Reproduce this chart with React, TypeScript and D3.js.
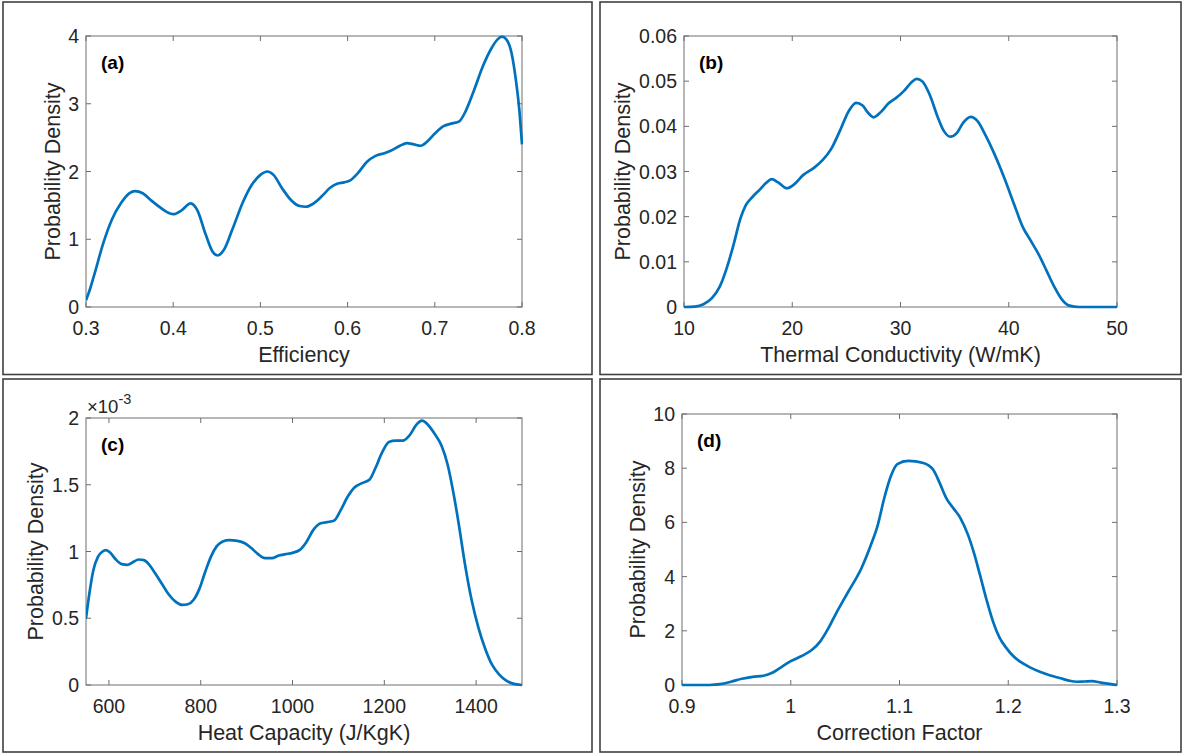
import React from "react";
import * as d3 from "d3";

// ---------- Data ----------
// (a) Efficiency
const effX = [0.300,0.305,0.310,0.320,0.330,0.340,0.350,0.356,0.365,0.375,0.385,0.393,0.400,0.410,0.420,0.428,0.437,0.445,0.451,0.458,0.468,0.480,0.490,0.500,0.508,0.515,0.525,0.535,0.545,0.552,0.560,0.570,0.580,0.588,0.596,0.603,0.612,0.622,0.632,0.642,0.650,0.660,0.668,0.676,0.684,0.692,0.700,0.710,0.720,0.728,0.735,0.745,0.755,0.765,0.772,0.777,0.782,0.788,0.793,0.797,0.800];
const effY = [0.10,0.28,0.50,0.95,1.30,1.53,1.68,1.71,1.68,1.57,1.47,1.40,1.37,1.43,1.53,1.42,1.08,0.82,0.76,0.84,1.15,1.55,1.80,1.95,2.00,1.95,1.75,1.58,1.49,1.48,1.52,1.63,1.76,1.82,1.84,1.87,1.98,2.14,2.23,2.27,2.31,2.38,2.42,2.40,2.38,2.45,2.56,2.67,2.71,2.74,2.88,3.20,3.55,3.82,3.95,3.99,3.95,3.75,3.35,2.90,2.40];
const effXTicks = [0.3,0.4,0.5,0.6,0.7,0.8];
const effXTickLabels = ["0.3","0.4","0.5","0.6","0.7","0.8"];
const effYTicks = [0,1,2,3,4];
const effYTickLabels = ["0","1","2","3","4"];

// (b) Thermal conductivity
const tcX = [10,11,11.8,12.6,13.3,14.0,14.6,15.2,15.7,16.3,17.0,17.6,18.1,18.7,19.5,20.2,21.0,22.0,22.8,23.6,24.4,25.2,25.9,26.5,27.0,27.5,28.2,28.9,29.6,30.3,31.0,31.5,32.0,32.7,33.4,34.0,34.6,35.2,35.8,36.5,37.1,37.8,38.6,39.6,40.5,41.3,42.0,42.8,43.5,44.2,44.9,45.6,46.5,50];
const tcY = [0,0.0001,0.0006,0.0020,0.0045,0.0090,0.0140,0.0195,0.0225,0.0243,0.0260,0.0275,0.0283,0.0276,0.0263,0.0272,0.0292,0.0308,0.0325,0.0350,0.0390,0.0433,0.0452,0.0446,0.0430,0.0420,0.0432,0.0451,0.0463,0.0478,0.0497,0.0505,0.0500,0.0470,0.0423,0.0390,0.0377,0.0385,0.0408,0.0421,0.0412,0.0383,0.0343,0.0285,0.0227,0.0177,0.0148,0.0115,0.0080,0.0045,0.0017,0.0003,0,0];
const tcXTicks = [10,20,30,40,50];
const tcXTickLabels = ["10","20","30","40","50"];
const tcYTicks = [0,0.01,0.02,0.03,0.04,0.05,0.06];
const tcYTickLabels = ["0","0.01","0.02","0.03","0.04","0.05","0.06"];

// (c) Heat capacity
const hcX = [550,558,566,576,586,594,603,615,628,640,652,665,676,688,700,715,730,745,760,772,785,797,810,822,835,848,862,880,897,912,925,940,955,970,985,1000,1015,1030,1045,1060,1075,1090,1105,1120,1135,1150,1168,1180,1195,1210,1225,1240,1255,1270,1282,1295,1310,1325,1338,1350,1362,1375,1390,1405,1420,1435,1450,1465,1480,1500];
const hcY = [0.50e-3,0.70e-3,0.86e-3,0.96e-3,1.00e-3,1.01e-3,0.99e-3,0.94e-3,0.905e-3,0.90e-3,0.92e-3,0.94e-3,0.935e-3,0.90e-3,0.84e-3,0.76e-3,0.68e-3,0.625e-3,0.60e-3,0.605e-3,0.64e-3,0.72e-3,0.85e-3,0.96e-3,1.04e-3,1.075e-3,1.085e-3,1.08e-3,1.06e-3,1.02e-3,0.98e-3,0.95e-3,0.95e-3,0.97e-3,0.98e-3,0.99e-3,1.01e-3,1.07e-3,1.16e-3,1.21e-3,1.22e-3,1.23e-3,1.31e-3,1.41e-3,1.48e-3,1.51e-3,1.54e-3,1.62e-3,1.74e-3,1.82e-3,1.83e-3,1.83e-3,1.87e-3,1.95e-3,1.98e-3,1.95e-3,1.88e-3,1.79e-3,1.65e-3,1.45e-3,1.21e-3,0.92e-3,0.64e-3,0.43e-3,0.27e-3,0.15e-3,0.08e-3,0.035e-3,0.01e-3,0];
const hcXTicks = [600,800,1000,1200,1400];
const hcXTickLabels = ["600","800","1000","1200","1400"];
const hcYTicks = [0,0.5e-3,1e-3,1.5e-3,2e-3];
const hcYTickLabels = ["0","0.5","1","1.5","2"];

// (d) Correction factor
const cfX = [0.900,0.925,0.935,0.945,0.955,0.965,0.975,0.983,0.992,1.000,1.010,1.019,1.027,1.034,1.041,1.053,1.065,1.074,1.080,1.086,1.092,1.098,1.108,1.122,1.131,1.137,1.143,1.150,1.156,1.163,1.169,1.174,1.180,1.186,1.192,1.1985,1.205,1.211,1.220,1.229,1.238,1.248,1.256,1.263,1.270,1.277,1.285,1.293,1.300];
const cfY = [0,0,0.03,0.12,0.23,0.30,0.34,0.45,0.68,0.88,1.07,1.28,1.60,2.05,2.59,3.45,4.31,5.20,5.90,6.90,7.70,8.15,8.27,8.19,7.94,7.45,6.90,6.50,6.16,5.54,4.80,4.06,3.15,2.34,1.75,1.35,1.05,0.86,0.65,0.49,0.36,0.25,0.16,0.12,0.13,0.14,0.09,0.04,0.00];
const cfXTicks = [0.9,1.0,1.1,1.2,1.3];
const cfXTickLabels = ["0.9","1","1.1","1.2","1.3"];
const cfYTicks = [0,2,4,6,8,10];
const cfYTickLabels = ["0","2","4","6","8","10"];

// ---------- Layout ----------
const FONT = "'Liberation Sans', Arial, Helvetica, sans-serif";
const TXT = "#262626";
const AX = "#6e6e6e";
const BLUE = "#0072BD";

type PanelCfg = {
  id: string; tag: string; box: [number, number, number, number];
  l: number; r: number; t: number; b: number;
  xDomain: [number, number]; yDomain: [number, number];
  xs: number[]; ys: number[];
  xTicks: number[]; xTickLabels: string[]; yTicks: number[]; yTickLabels: string[];
  xLabel: string; yLabelX: number; exponent?: boolean;
};

const panels: PanelCfg[] = [
  { id: "a", tag: "(a)", box: [3, 2, 592, 374.5], l: 86, r: 522, t: 36, b: 307,
    xDomain: [0.3, 0.8], yDomain: [0, 4], xs: effX, ys: effY,
    xTicks: effXTicks, xTickLabels: effXTickLabels, yTicks: effYTicks, yTickLabels: effYTickLabels,
    xLabel: "Efficiency", yLabelX: 60 },
  { id: "b", tag: "(b)", box: [600, 2, 1181, 374.5], l: 684, r: 1117, t: 36, b: 307,
    xDomain: [10, 50], yDomain: [0, 0.06], xs: tcX, ys: tcY,
    xTicks: tcXTicks, xTickLabels: tcXTickLabels, yTicks: tcYTicks, yTickLabels: tcYTickLabels,
    xLabel: "Thermal Conductivity (W/mK)", yLabelX: 630 },
  { id: "c", tag: "(c)", box: [3, 379, 592, 752], l: 86, r: 522, t: 418, b: 685,
    xDomain: [550, 1500], yDomain: [0, 2e-3], xs: hcX, ys: hcY,
    xTicks: hcXTicks, xTickLabels: hcXTickLabels, yTicks: hcYTicks, yTickLabels: hcYTickLabels,
    xLabel: "Heat Capacity (J/KgK)", yLabelX: 43, exponent: true },
  { id: "d", tag: "(d)", box: [600, 379, 1181, 752], l: 682, r: 1117, t: 414, b: 685,
    xDomain: [0.9, 1.3], yDomain: [0, 10], xs: cfX, ys: cfY,
    xTicks: cfXTicks, xTickLabels: cfXTickLabels, yTicks: cfYTicks, yTickLabels: cfYTickLabels,
    xLabel: "Correction Factor", yLabelX: 645 },
];

function Panel({ p }: { p: PanelCfg }) {
  const x = d3.scaleLinear().domain(p.xDomain).range([p.l, p.r]);
  const y = d3.scaleLinear().domain(p.yDomain).range([p.b, p.t]);
  const pts = p.xs.map((v, i) => [v, p.ys[i]] as [number, number]);
  const line = d3.line<[number, number]>()
    .x((d) => x(d[0])).y((d) => y(d[1]))
    .curve(d3.curveMonotoneX);
  const tl = 5;
  const [bx0, by0, bx1, by1] = p.box;
  return (
    <g>
      <rect x={bx0} y={by0} width={bx1 - bx0} height={by1 - by0} fill="white" stroke="#404040" strokeWidth={1.6} />
      <defs>
        <clipPath id={`clip-${p.id}`}>
          <rect x={p.l} y={p.t - 2} width={p.r - p.l + 1} height={p.b - p.t + 4} />
        </clipPath>
      </defs>
      <rect x={p.l} y={p.t} width={p.r - p.l} height={p.b - p.t} fill="none" stroke={AX} strokeWidth={1} />
      {p.xTicks.map((v, i) => (
        <g key={"xt" + i}>
          <line x1={x(v)} x2={x(v)} y1={p.b} y2={p.b - tl} stroke={AX} strokeWidth={1} />
          <line x1={x(v)} x2={x(v)} y1={p.t} y2={p.t + tl} stroke={AX} strokeWidth={1} />
          <text x={x(v)} y={p.b + 28} textAnchor="middle" fontSize={19.5} fill={TXT} fontFamily={FONT}>{p.xTickLabels[i]}</text>
        </g>
      ))}
      {p.yTicks.map((v, i) => (
        <g key={"yt" + i}>
          <line x1={p.l} x2={p.l + tl} y1={y(v)} y2={y(v)} stroke={AX} strokeWidth={1} />
          <line x1={p.r} x2={p.r - tl} y1={y(v)} y2={y(v)} stroke={AX} strokeWidth={1} />
          <text x={p.l - 7} y={y(v) + 7} textAnchor="end" fontSize={19.5} fill={TXT} fontFamily={FONT}>{p.yTickLabels[i]}</text>
        </g>
      ))}
      <path d={line(pts) || ""} fill="none" stroke={BLUE} strokeWidth={2.7} clipPath={`url(#clip-${p.id})`} strokeLinejoin="round" />
      <text x={(p.l + p.r) / 2} y={p.b + 55} textAnchor="middle" fontSize={21.5} fill={TXT} fontFamily={FONT}>{p.xLabel}</text>
      <text transform={`translate(${p.yLabelX},${(p.t + p.b) / 2}) rotate(-90)`} textAnchor="middle" fontSize={21.5} fill={TXT} fontFamily={FONT}>Probability Density</text>
      <text x={p.l + 15} y={p.t + 33} fontSize={19} fontWeight="bold" fill="#000" fontFamily={FONT}>{p.tag}</text>
      {p.exponent && (
        <text x={p.l + 1} y={p.t - 5} fontSize={18.5} fill={TXT} fontFamily={FONT}>
          ×10<tspan dy={-9} fontSize={14.5}>-3</tspan>
        </text>
      )}
    </g>
  );
}

export default function App() {
  return (
    <svg width={1183} height={755} style={{ position: "absolute", left: 0, top: 0, background: "white" }}>
      <rect x={0} y={0} width={1183} height={755} fill="white" />
      {panels.map((p) => <Panel key={p.id} p={p} />)}
    </svg>
  );
}
